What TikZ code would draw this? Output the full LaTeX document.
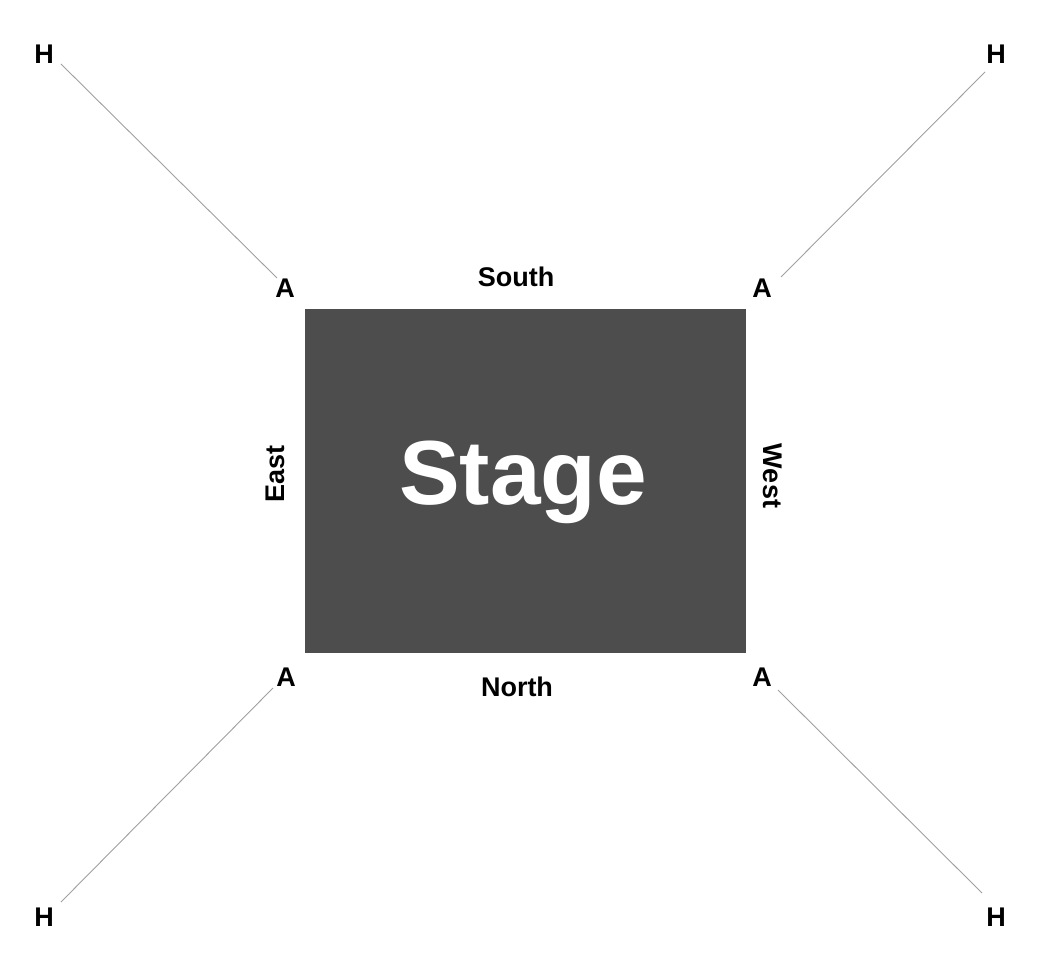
\documentclass[tikz,border=0pt]{standalone}
\usepackage{fontspec}
\setmainfont{Liberation Sans}
\definecolor{stagegray}{HTML}{4D4D4D}
\definecolor{linegray}{HTML}{A0A0A0}
\begin{document}
\begin{tikzpicture}[x=1pt,y=-1pt,
  lbl/.style={font=\fontsize{27}{27}\selectfont\bfseries,inner sep=0pt,anchor=base},
  side/.style={font=\fontsize{27}{27}\selectfont\bfseries,inner sep=0pt,text height=19pt,text depth=0pt},
  wire/.style={draw=linegray,line width=0.9pt}]
\useasboundingbox[fill=white] (0,0) rectangle (1050,968);
\node[fill=stagegray,minimum width=441pt,minimum height=344pt,inner sep=0pt,anchor=north west] (stage) at (305,309) {};
\node[font=\fontsize{91}{91}\selectfont\bfseries,text=white,inner sep=0pt,anchor=base] (stagetext) at (523,504) {Stage};
\node[lbl] (h1) at (44,64) {H};
\node[lbl] (h2) at (996,64) {H};
\node[lbl] (h3) at (44,926) {H};
\node[lbl] (h4) at (996,926) {H};
\node[lbl] (a1) at (285,298) {A};
\node[lbl] (a2) at (762,298) {A};
\node[lbl] (a3) at (286,686) {A};
\node[lbl] (a4) at (762,686) {A};
\node[lbl] (south) at (516,287) {South};
\node[lbl] (north) at (517,696) {North};
\node[side,rotate=90] (east) at (275,474) {East};
\node[side,rotate=-90] (west) at (773,476) {West};
\coordinate (h1e) at (61,64);
\coordinate (a1e) at (277,278);
\coordinate (h2e) at (985,72);
\coordinate (a2e) at (781,277);
\coordinate (a3e) at (273,688);
\coordinate (h3e) at (61,902);
\coordinate (a4e) at (778,690);
\coordinate (h4e) at (982,893);
\draw[wire] (h1e) -- (a1e);
\draw[wire] (h2e) -- (a2e);
\draw[wire] (a3e) -- (h3e);
\draw[wire] (a4e) -- (h4e);
\end{tikzpicture}
\end{document}
